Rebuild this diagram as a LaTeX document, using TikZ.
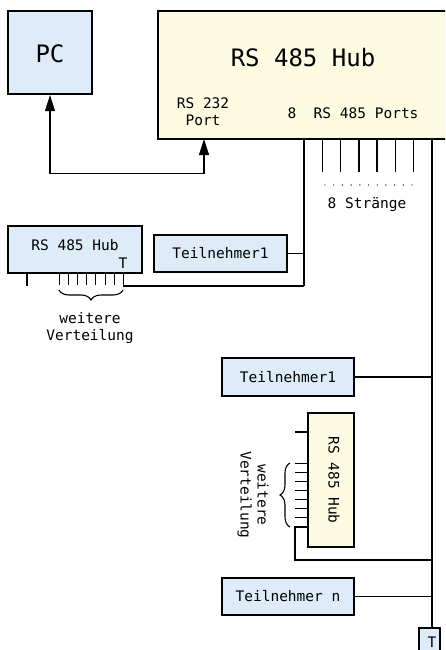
\documentclass[tikz,border=0pt]{standalone}
\usepackage{fontspec}
\setmonofont{DejaVu Sans Mono}
\usetikzlibrary{arrows.meta,decorations.pathreplacing}
\definecolor{boxblue}{RGB}{222,236,249}
\definecolor{boxyellow}{RGB}{253,251,225}
\tikzset{
  unit/.style={draw=black, line width=2.2pt, fill=boxblue, inner sep=0pt},
  hubbox/.style={draw=black, line width=2.2pt, fill=boxyellow, inner sep=0pt},
  lbl/.style={font=\ttfamily\fontsize{14.5}{17}\selectfont, inner sep=0pt, align=center},
  big/.style={font=\ttfamily\fontsize{24}{28}\selectfont, inner sep=0pt},
  wire/.style={line width=1.1pt},
  curly/.style={decorate, decoration={brace, amplitude=10pt}, line width=1.1pt},
}
\begin{document}
\begin{tikzpicture}[x=1pt, y=-1pt]
  \useasboundingbox (0,0) rectangle (445,650);
  \clip (0,0) rectangle (445,650);

  % main hub and PC
  \node[unit, minimum width=84pt, minimum height=83pt] (pc) at (50,52.5) {};
  \node[big] (pctxt) at (50,54) {PC};
  \node[hubbox, minimum width=312pt, minimum height=128pt] (hub) at (314,75) {};
  \node[big] (hubtxt) at (303,58) {RS 485 Hub};
  \node[lbl] (p232txt) at (203,112) {RS 232\\Port};
  \node[lbl] (portstxt) at (353,113) {8\ \ RS 485 Ports};

  % RS 232 link
  \coordinate (p232) at (204,139);
  \draw[wire, {Triangle[length=16pt,width=10pt]}-{Triangle[length=16pt,width=10pt]}]
    (pc.south) -- ++(0,78) -| (p232);

  % eight RS 485 strands
  \coordinate (s1) at (304,139);
  \coordinate (s8) at (432,139);
  \foreach \x in {322.7,340.7,359,377,395.3,413.3}
    \draw[wire] (\x,139) -- (\x,172);
  \foreach \i in {0,...,10}
    \fill (325+8.7*\i,185) circle (0.7pt);
  \node[lbl] (strtxt) at (367,205) {8 Stränge};

  % left strand: sub hub and first subscriber
  \node[unit, minimum width=134pt, minimum height=47pt] (subhub) at (75,249.5) {};
  \node[lbl] (subhubtxt) at (75,245) {RS 485 Hub};
  \node[lbl] (subT) at (123,263) {T};
  \node[unit, minimum width=133pt, minimum height=37pt] (ta) at (220.5,253.5) {};
  \node[lbl] (tatxt) at (220.5,253.5) {Teilnehmer1};
  \coordinate (s1end) at (304,286);
  \draw[wire] (s1) -- (s1end);
  \draw[wire] (ta.east) -- (ta.east -| s1);
  \coordinate (subTp) at (123.3,273);
  \draw[wire] (subTp) |- (s1end);
  \draw[wire] (27,273) -- (27,286);
  \foreach \i in {0,...,6}
    \draw[wire] (59.3+9.15*\i,273) -- (59.3+9.15*\i,285);
  \draw[curly] (123,290) -- (59,290);
  \node[lbl] (vt1) at (90,328) {weitere\\Verteilung};

  % right strand: subscribers, rotated sub hub, terminator
  \node[unit, minimum width=21pt, minimum height=43pt, anchor=north west] (term) at (418,627) {};
  \node[lbl] (termtxt) at (432,642) {T};
  \draw[wire] (s8) -- (term.north -| s8);

  \node[unit, minimum width=132pt, minimum height=38pt] (tb) at (288,377) {};
  \node[lbl] (tbtxt) at (288,377) {Teilnehmer1};
  \draw[wire] (tb.east) -- (tb.east -| s8);

  \node[hubbox, minimum width=46pt, minimum height=134pt] (vhub) at (331,480) {};
  \node[lbl, rotate=-90] (vhubtxt) at (334,480) {RS 485 Hub};
  \draw[wire] (295,432) -- (308,432);
  \foreach \i in {0,...,6}
    \draw[wire] (295,463.3+9.06*\i) -- (308,463.3+9.06*\i);
  \coordinate (vT) at (308,527);
  \draw[wire] (vT) -- (295,527) -- (295,560) -- (432,560);
  \draw[curly] (290,527) -- (290,463);
  \node[lbl, rotate=-90] (vt2) at (253,495) {weitere\\Verteilung};

  \node[unit, minimum width=132pt, minimum height=37pt] (tn) at (288,596.5) {};
  \node[lbl] (tntxt) at (288,596.5) {Teilnehmer n};
  \draw[wire] (tn.east) -- (tn.east -| s8);
\end{tikzpicture}
\end{document}
